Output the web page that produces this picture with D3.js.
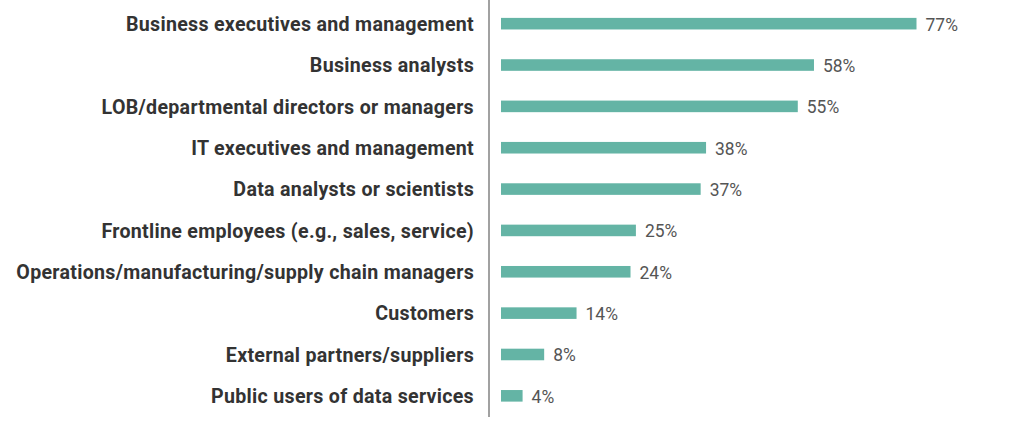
<!DOCTYPE html>
<html>
<head>
<meta charset="utf-8">
<script src="https://cdn.jsdelivr.net/npm/d3@7"></script>
<style>
  body { margin: 0; background: #fff; }
  svg { display: block; }
</style>
</head>
<body>
<svg id="chart"></svg>
<script>
const categories = [
  "Business executives and management",
  "Business analysts",
  "LOB/departmental directors or managers",
  "IT executives and management",
  "Data analysts or scientists",
  "Frontline employees (e.g., sales, service)",
  "Operations/manufacturing/supply chain managers",
  "Customers",
  "External partners/suppliers",
  "Public users of data services"
];
const values = [77, 58, 55, 38, 37, 25, 24, 14, 8, 4];

const width = 1035, height = 437;
const axisX = 489;
const labelRight = 474, labelLeft = 16;

const svg = d3.select("#chart")
  .attr("width", width)
  .attr("height", height);

const x = d3.scaleLinear()
  .domain([0, 77])
  .range([501, 916.5]);

const y = d3.scaleBand()
  .domain(categories)
  .range([3, 416.5])
  .paddingInner(0.72)
  .paddingOuter(0.36);

// vertical axis line
svg.append("line")
  .attr("x1", axisX).attr("x2", axisX)
  .attr("y1", 0).attr("y2", 417)
  .attr("stroke", "#8a8a8a")
  .attr("stroke-width", 1.6);

svg.selectAll("rect.bar")
  .data(values)
  .enter()
  .append("rect")
  .attr("class", "bar")
  .attr("x", x(0))
  .attr("y", (d, i) => y(categories[i]))
  .attr("width", d => x(d) - x(0))
  .attr("height", y.bandwidth())
  .attr("fill", "#64b4a5");

const vals = svg.selectAll("text.val")
  .data(values)
  .enter()
  .append("text")
  .attr("class", "val")
  .attr("x", 0)
  .attr("dy", "0.36em")
  .attr("font-family", "Roboto, sans-serif")
  .attr("font-size", 19)
  .attr("fill", "#555")
  .text(d => d + "%");
vals.attr("transform", (d, i) =>
  `translate(${x(d) + 9},${y(categories[i]) + y.bandwidth() / 2}) scale(0.92,1)`);

const cats = svg.selectAll("text.cat")
  .data(categories)
  .enter()
  .append("text")
  .attr("class", "cat")
  .attr("x", 0)
  .attr("dy", "0.36em")
  .attr("text-anchor", "end")
  .attr("font-family", "Roboto, sans-serif")
  .attr("font-weight", "bold")
  .attr("font-size", 20)
  .attr("letter-spacing", 0.3)
  .attr("fill", "#333")
  .text(d => d);

// squeeze labels horizontally to get the condensed look
let maxW = 0;
cats.each(function() { maxW = Math.max(maxW, this.getComputedTextLength()); });
const sx = (labelRight - labelLeft) / maxW;
cats.attr("transform", d => `translate(${labelRight},${y(d) + y.bandwidth() / 2}) scale(${sx},1)`);
</script>
</body>
</html>
